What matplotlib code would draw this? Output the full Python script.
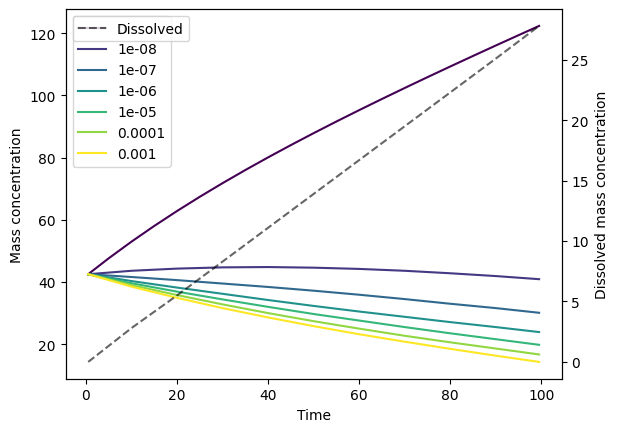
import numpy as np
import matplotlib
matplotlib.use('Agg')
import matplotlib.pyplot as plt

# values
time = [0.5, 10, 20, 30, 40, 50, 60, 70, 80, 90, 99.5]
time_fine = [0.5, 5, 10, 15, 20, 25, 30, 35, 40, 45, 50,
             55, 60, 65, 70, 75, 80, 85, 90, 95, 99.5]
labels = ['0', '1e-08', '1e-07', '1e-06', '1e-05', '0.0001', '0.001']

mass_0 = [42.5, 47.61, 52.96, 58.01, 62.81, 67.39, 71.77, 75.99, 80.06, 84.01, 87.85,
          91.59, 95.25, 98.84, 102.37, 105.85, 109.28, 112.67, 116.03, 119.35, 122.32]
mass_1e8 = [42.5, 43.6, 44.3, 44.7, 44.8, 44.6, 44.2, 43.6, 42.8, 41.9, 40.9]
mass_1e7 = [42.5, 41.6, 40.6, 39.5, 38.4, 37.2, 35.9, 34.5, 33.0, 31.6, 30.1]
mass_1e6 = [42.5, 40.3, 38.2, 36.2, 34.2, 32.3, 30.5, 28.8, 27.1, 25.5, 23.9]
mass_1e5 = [42.5, 39.6, 36.9, 34.4, 32.0, 29.7, 27.6, 25.5, 23.5, 21.6, 19.8]
mass_1e4 = [42.5, 39.0, 35.8, 32.8, 30.0, 27.4, 25.0, 22.7, 20.6, 18.6, 16.7]
mass_1e3 = [42.5, 38.5, 34.9, 31.6, 28.6, 25.8, 23.2, 20.8, 18.5, 16.3, 14.3]

dissolved = [0.0, 2.8, 5.5, 8.3, 11.1, 13.9, 16.7, 19.5, 22.3, 25.1, 27.8]

series = [mass_0, mass_1e8, mass_1e7, mass_1e6, mass_1e5, mass_1e4, mass_1e3]
colors = plt.cm.viridis(np.linspace(0, 1, len(series)))

fig, ax1 = plt.subplots()
ax2 = ax1.twinx()

for vals, lab, c in zip(series, labels, colors):
    t = time_fine if len(vals) == len(time_fine) else time
    ax1.plot(t, vals, color=c, label=lab)

ax2.plot(time, dissolved, color='k', alpha=0.6, ls='--', label='Dissolved')

ax1.set_xlabel('Time')
ax1.set_ylabel('Mass concentration')
ax2.set_ylabel('Dissolved mass concentration')

ax1.legend(loc='upper left')
ax2.legend(loc='upper left')

fig.savefig('out.png', dpi=100, bbox_inches='tight')
